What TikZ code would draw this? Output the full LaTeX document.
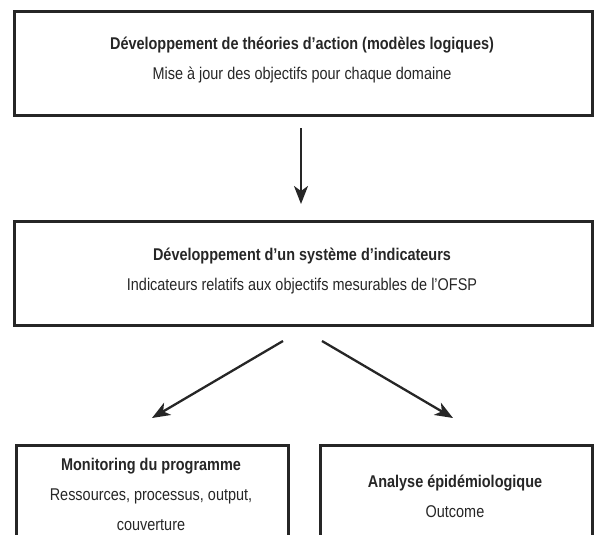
\documentclass[tikz,border=0pt]{standalone}
\usepackage{fontspec}
\setmainfont[FakeStretch=0.85]{Liberation Sans}
\usetikzlibrary{arrows.meta}
\begin{document}
\begin{tikzpicture}[x=1pt,y=-1pt,
  box/.style={draw=black!85,line width=2.6pt,inner sep=0pt},
  ttl/.style={font=\fontsize{17}{20}\selectfont\bfseries,text=black!85,inner sep=0pt},
  sub/.style={font=\fontsize{17}{20}\selectfont,text=black!85,inner sep=0pt},
  arr/.style={line width=2.3pt,draw=black!85,-{Stealth[length=18pt,width=14pt,inset=5pt]}}]
\useasboundingbox (0,0) rectangle (595,535);
\clip (0,0) rectangle (595,535);
% boxes
\node[box,minimum width=578pt,minimum height=104pt,anchor=north west] (top) at (13,10) {};
\node[box,minimum width=578pt,minimum height=104pt,anchor=north west] (mid) at (13,220) {};
\node[box,minimum width=272pt,minimum height=140pt,anchor=north west] (bl) at (15,444) {};
\node[box,minimum width=272pt,minimum height=140pt,anchor=north west] (br) at (319,444) {};
% texts
\node[ttl] (t1) at (302,45) {Développement de théories d’action (modèles logiques)};
\node[sub] (t2) at (302,75) {Mise à jour des objectifs pour chaque domaine};
\node[ttl] (m1) at (302,256) {Développement d’un système d’indicateurs};
\node[sub] (m2) at (302,286) {Indicateurs relatifs aux objectifs mesurables de l’OFSP};
\node[ttl] (l1) at (151,466) {Monitoring du programme};
\node[sub] (l2) at (151,496) {Ressources, processus, output,};
\node[sub] (l3) at (151,525) {couverture};
\node[ttl] (r1) at (455,483) {Analyse épidémiologique};
\node[sub] (r2) at (455,512) {Outcome};
% connectors
\coordinate (a0) at (301,128);
\coordinate (a1) at (301,204);
\coordinate (b0) at (283,341);
\coordinate (b1) at (152,418);
\coordinate (c0) at (322,341);
\coordinate (c1) at (453,418);
\draw[arr] (a0) -- (a1);
\draw[arr] (b0) -- (b1);
\draw[arr] (c0) -- (c1);
\end{tikzpicture}
\end{document}
